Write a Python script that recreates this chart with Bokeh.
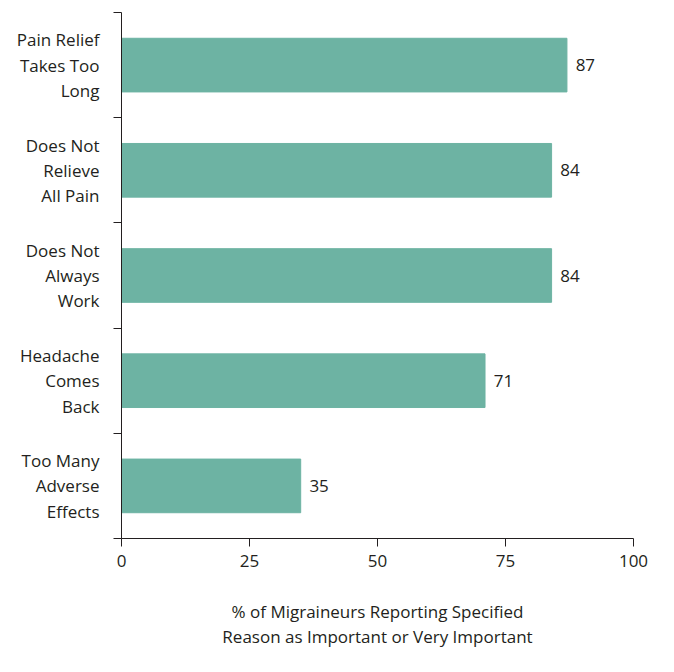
from bokeh.plotting import figure
from bokeh.models import FixedTicker, ColumnDataSource
from bokeh.embed import file_html
from bokeh.resources import INLINE
from bokeh.core.properties import value

categories = ["Pain Relief\nTakes Too\nLong", "Does Not\nRelieve\nAll Pain", "Does Not\nAlways\nWork",
              "Headache\nComes\nBack", "Too Many\nAdverse\nEffects"]
values = [87, 84, 84, 71, 35]
x_ticks = [0, 25, 50, 75, 100]

n = len(categories)
ypos = [n - 1 - i for i in range(n)]
src = ColumnDataSource(dict(y=ypos, v=values, lab=[str(v) for v in values], lx=[v + 1.7 for v in values]))

p = figure(width=658, height=656, output_backend="svg", toolbar_location=None,
           x_range=(0, 100), y_range=(-0.5, n - 0.5),
           min_border_left=121, min_border_right=25, min_border_top=12, min_border_bottom=118)
p.outline_line_color = None
p.xgrid.visible = False
p.ygrid.visible = False
p.hbar(y="y", left=0, right="v", height=0.51, source=src, color="#6db3a3")
p.text(x="lx", y="y", text="lab", source=src, text_baseline="middle", text_font=value("Open Sans"),
       text_font_size="17px", text_color="#231f20")

fnt = "Open Sans"
p.xaxis.ticker = FixedTicker(ticks=x_ticks)
p.xaxis.major_tick_in = 0
p.xaxis.major_tick_out = 8
p.xaxis.minor_tick_line_color = None
p.xaxis.axis_label = "% of Migraineurs Reporting Specified\nReason as Important or Very Important"
p.xaxis.axis_label_text_font = fnt
p.xaxis.axis_label_text_font_style = "normal"
p.xaxis.axis_label_text_font_size = "17px"
p.xaxis.axis_label_text_line_height = 1.1
p.xaxis.axis_label_standoff = 30
p.xaxis.major_label_text_font = fnt
p.xaxis.major_label_text_font_size = "17px"
p.xaxis.major_label_standoff = 8

p.yaxis.ticker = FixedTicker(ticks=ypos, minor_ticks=[i - 0.5 for i in range(n + 1)])
p.yaxis.major_label_overrides = {y: c for y, c in zip(ypos, categories)}
p.yaxis.major_tick_in = 0
p.yaxis.major_tick_out = 0
p.yaxis.minor_tick_in = 0
p.yaxis.minor_tick_out = 8
p.yaxis.minor_tick_line_color = "#231f20"
p.yaxis.major_label_text_font = fnt
p.yaxis.major_label_text_font_size = "17px"
p.yaxis.major_label_text_align = "center"
p.yaxis.major_label_text_line_height = 1.1
p.yaxis.major_label_standoff = 14
for attr in ("axis_line_color", "major_tick_line_color", "major_label_text_color", "axis_label_text_color"):
    setattr(p.xaxis[0], attr, "#231f20")
    setattr(p.yaxis[0], attr, "#231f20")

open("out.html", "w").write(file_html(p, INLINE))
